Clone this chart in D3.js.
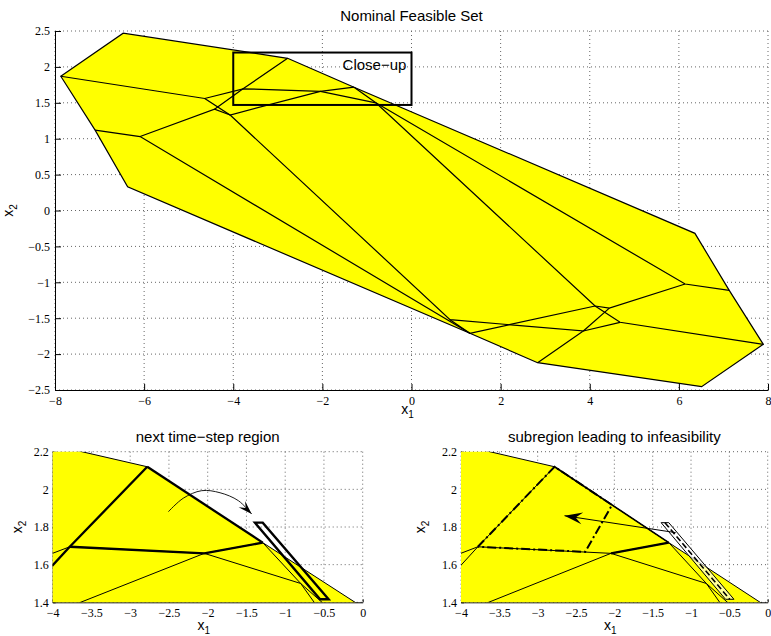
<!DOCTYPE html>
<html>
<head>
<meta charset="utf-8">
<script src="https://cdnjs.cloudflare.com/ajax/libs/d3/7.8.5/d3.min.js"></script>
<style>
body { margin: 0; background: #fff; }
svg text { font-family: "Liberation Sans", Arial, Helvetica, sans-serif; fill: #000; }
.grid line { stroke: #666; stroke-width: 1; stroke-dasharray: 1,3; }
.domain, .tick line { stroke: #000; }
</style>
</head>
<body>
<svg id="fig" width="771" height="636"></svg>
<script>
// vertices of the partition (x1, x2)
const vL = [-7.87, 1.87], vT = [-6.47, 2.47], vB = [-2.78, 2.12], vC = [-1.29, 1.717];
const vUR = [6.36, -0.318], vR1 = [7.13, -1.112], vRt = [7.895, -1.864], vBR = [6.51, -2.454];
const vBM = [2.83, -2.12], vBL = [1.31, -1.71], vLL = [-6.37, 0.33], vLM = [-7.10, 1.12];
const vP = [-4.64, 1.56], vQ = [-4.42, 1.41], vR = [-4.07, 1.33], vA = [-3.78, 1.695];
const vD = [-2.044, 1.66], vJ = [-0.80, 1.50], vG = [-6.09, 1.03], vK = [0.864, -1.52];
const vM1 = [4.12, -1.33], vM2 = [4.44, -1.36], vM3 = [4.68, -1.557], vM4 = [3.856, -1.678];
const vN = [6.14, -1.024], vE = [-2.03, 1.917], vF = [-2.38, 1.668];

const hull = [vL, vT, vB, vC, vUR, vR1, vRt, vBR, vBM, vBL, vLL, vLM];
const edges = [
    [vL, vP, vA, vD, vJ], [vQ, vA, vB], [vG, vQ, vR], [vLM, vG, vBL], [vP, vR, vD, vC],
    [vC, vJ, vM1, vM3, vRt], [vJ, vN, vR1], [vM1, vM2, vN], [vM4, vM2], [vM4, vM3],
    [vBM, vM4, vK, vR], [vK, vBL, vM1]
];
// region reached at the next time step (bold in the close-up)
const nextRegion = [[vQ, vA, vB], [vA, vD, vC], [vB, vC]];
const targetSet = [[-1.39, 1.823], [-1.29, 1.823], [-0.44, 1.416], [-0.55, 1.416]];
const targetMid = [[-1.34, 1.823], [-0.495, 1.416]];
const stepCurve = [[-2.508, 1.881], [-2.315, 1.953], [-2.077, 1.993], [-1.841, 1.982], [-1.605, 1.940], [-1.432, 1.869]];
const infeasSub = [vA, vB, vE, vF, vA];
const backArrow = [[-1.2, 1.77], [-2.65, 1.86]];
const closeupBox = [[-4, 1.47], [0, 2.2]];

const mainXTicks = [-8, -6, -4, -2, 0, 2, 4, 6, 8];
const mainYTicks = [-2.5, -2, -1.5, -1, -0.5, 0, 0.5, 1, 1.5, 2, 2.5];
const zoomXTicks = [-4, -3.5, -3, -2.5, -2, -1.5, -1, -0.5, 0];
const zoomYTicks = [1.4, 1.6, 1.8, 2, 2.2];

const yellow = '#ffff00';
const fmt = d3.format('~g');
const svg = d3.select('#fig');

function styleAxis(ax) {
    ax.attr('font-family', null).attr('font-size', null);
    ax.selectAll('text')
        .style('font-family', '"Liberation Serif", "Times New Roman", serif')
        .style('font-size', '12px');
}

function drawPanel(p) {
    const g = svg.append('g').attr('transform', `translate(${p.left},${p.top})`);
    const x = d3.scaleLinear().domain(p.xDomain).range([0, p.width]);
    const y = d3.scaleLinear().domain(p.yDomain).range([p.height, 0]);

    const grid = g.append('g').attr('class', 'grid');
    grid.selectAll('.gx').data(p.xTicks).join('line')
        .attr('x1', d => x(d)).attr('x2', d => x(d)).attr('y1', 0).attr('y2', p.height);
    grid.selectAll('.gy').data(p.yTicks).join('line')
        .attr('x1', 0).attr('x2', p.width).attr('y1', d => y(d)).attr('y2', d => y(d));

    g.append('g').attr('transform', `translate(0,${p.height})`)
        .call(d3.axisBottom(x).tickValues(p.xTicks).tickFormat(fmt)
            .tickSizeInner(-p.tick).tickSizeOuter(0).tickPadding(p.padX))
        .call(styleAxis);
    g.append('g')
        .call(d3.axisLeft(y).tickValues(p.yTicks).tickFormat(fmt)
            .tickSizeInner(-p.tick).tickSizeOuter(0).tickPadding(p.padY))
        .call(styleAxis);

    g.append('text').attr('x', p.width / 2).attr('y', -p.titleGap)
        .attr('text-anchor', 'middle').style('font-size', '15px').text(p.title);

    const xl = g.append('text').attr('x', p.width / 2 - 4).attr('y', p.height + p.xLabelGap)
        .attr('text-anchor', 'middle').style('font-size', '14px');
    xl.append('tspan').text('x');
    xl.append('tspan').attr('dy', 4).style('font-size', '10px').text('1');
    const yl = g.append('text')
        .attr('transform', `translate(${-p.yLabelGap},${p.height / 2}) rotate(-90)`)
        .attr('text-anchor', 'middle').style('font-size', '14px');
    yl.append('tspan').text('x');
    yl.append('tspan').attr('dy', 4).style('font-size', '10px').text('2');

    svg.append('clipPath').attr('id', 'clip-' + p.id)
        .append('rect').attr('width', p.width).attr('height', p.height);
    const plot = g.append('g').attr('clip-path', `url(#clip-${p.id})`);
    const line = d3.line().x(d => x(d[0])).y(d => y(d[1]));

    plot.append('path').attr('d', line(hull) + 'Z')
        .attr('fill', yellow).attr('stroke', '#000').attr('stroke-width', p.lw);
    plot.selectAll('.edge').data(edges).join('path')
        .attr('d', line).attr('fill', 'none').attr('stroke', '#000').attr('stroke-width', p.lw);
    return { g, plot, x, y, line };
}

function arrowHead(sel, px, tip, from, len, half) {
    const [tx, ty] = [px.x(tip[0]), px.y(tip[1])];
    const [fx, fy] = [px.x(from[0]), px.y(from[1])];
    const a = Math.atan2(ty - fy, tx - fx);
    const ux = Math.cos(a), uy = Math.sin(a);
    const bx = tx - ux * len, by = ty - uy * len;
    const pts = [
        [tx, ty],
        [bx - uy * half - ux * 2, by + ux * half - uy * 2],
        [tx - ux * len * 0.7, ty - uy * len * 0.7],
        [bx + uy * half - ux * 2, by - ux * half - uy * 2]
    ];
    sel.append('path').attr('d', 'M' + pts.join('L') + 'Z').attr('fill', '#000');
}

// top: nominal feasible set
const main = drawPanel({
    id: 'main', left: 55, top: 31, width: 713, height: 359,
    xDomain: [-8, 8], yDomain: [-2.5, 2.5], xTicks: mainXTicks, yTicks: mainYTicks,
    tick: 6, padX: 6, padY: 5, lw: 1.2, title: 'Nominal Feasible Set',
    titleGap: 10, xLabelGap: 24, yLabelGap: 42
});
main.g.append('rect')
    .attr('x', main.x(closeupBox[0][0])).attr('y', main.y(closeupBox[1][1]))
    .attr('width', main.x(closeupBox[1][0]) - main.x(closeupBox[0][0]))
    .attr('height', main.y(closeupBox[0][1]) - main.y(closeupBox[1][1]))
    .attr('fill', 'none').attr('stroke', '#000').attr('stroke-width', 2);
main.g.append('text').attr('x', main.x(-0.83)).attr('y', main.y(1.955))
    .attr('text-anchor', 'middle').style('font-size', '15px').text('Close\u2212up');

// bottom left: next time-step region
const left = drawPanel({
    id: 'left', left: 52.7, top: 451.7, width: 310, height: 150.6,
    xDomain: [-4, 0], yDomain: [1.4, 2.2], xTicks: zoomXTicks, yTicks: zoomYTicks,
    tick: 3, padX: 6, padY: 4, lw: 1, title: 'next time\u2212step region',
    titleGap: 10, xLabelGap: 28, yLabelGap: 31
});
left.plot.selectAll('.bold').data(nextRegion).join('path')
    .attr('d', left.line).attr('fill', 'none').attr('stroke', '#000')
    .attr('stroke-width', 2.3).attr('stroke-linejoin', 'round');
left.plot.append('path').attr('d', left.line(targetSet) + 'Z')
    .attr('fill', 'none').attr('stroke', '#000').attr('stroke-width', 2.4);
left.plot.append('path').attr('d', left.line.curve(d3.curveCatmullRom)(stepCurve))
    .attr('fill', 'none').attr('stroke', '#000').attr('stroke-width', 0.9);
left.line.curve(d3.curveLinear);
arrowHead(left.plot, left, stepCurve[5], stepCurve[4], 12, 4.5);

// bottom right: subregion leading to infeasibility
const right = drawPanel({
    id: 'right', left: 461, top: 451.7, width: 306.7, height: 150.6,
    xDomain: [-4, 0], yDomain: [1.4, 2.2], xTicks: zoomXTicks, yTicks: zoomYTicks,
    tick: 3, padX: 6, padY: 4, lw: 1, title: 'subregion leading to infeasibility',
    titleGap: 10, xLabelGap: 28, yLabelGap: 36
});
right.plot.append('path').attr('d', right.line([vD, vC])).attr('fill', 'none')
    .attr('stroke', '#000').attr('stroke-width', 2.2);
right.plot.append('path').attr('d', right.line([vB, vC])).attr('fill', 'none')
    .attr('stroke', '#000').attr('stroke-width', 1.6);
right.plot.append('path').attr('d', right.line(targetSet) + 'Z')
    .attr('fill', '#fff').attr('fill-opacity', 0.6).attr('stroke', '#000').attr('stroke-width', 1);
right.plot.append('path').attr('d', right.line(targetMid)).attr('fill', 'none')
    .attr('stroke', '#000').attr('stroke-width', 1.6).attr('stroke-dasharray', '6,3');
right.plot.append('path').attr('d', right.line(infeasSub)).attr('fill', 'none')
    .attr('stroke', '#000').attr('stroke-width', 2).attr('stroke-dasharray', '9,3,2,3');
right.plot.append('path').attr('d', right.line(backArrow)).attr('fill', 'none')
    .attr('stroke', '#000').attr('stroke-width', 1);
arrowHead(right.plot, right, backArrow[1], backArrow[0], 16, 6);
</script>
</body>
</html>
